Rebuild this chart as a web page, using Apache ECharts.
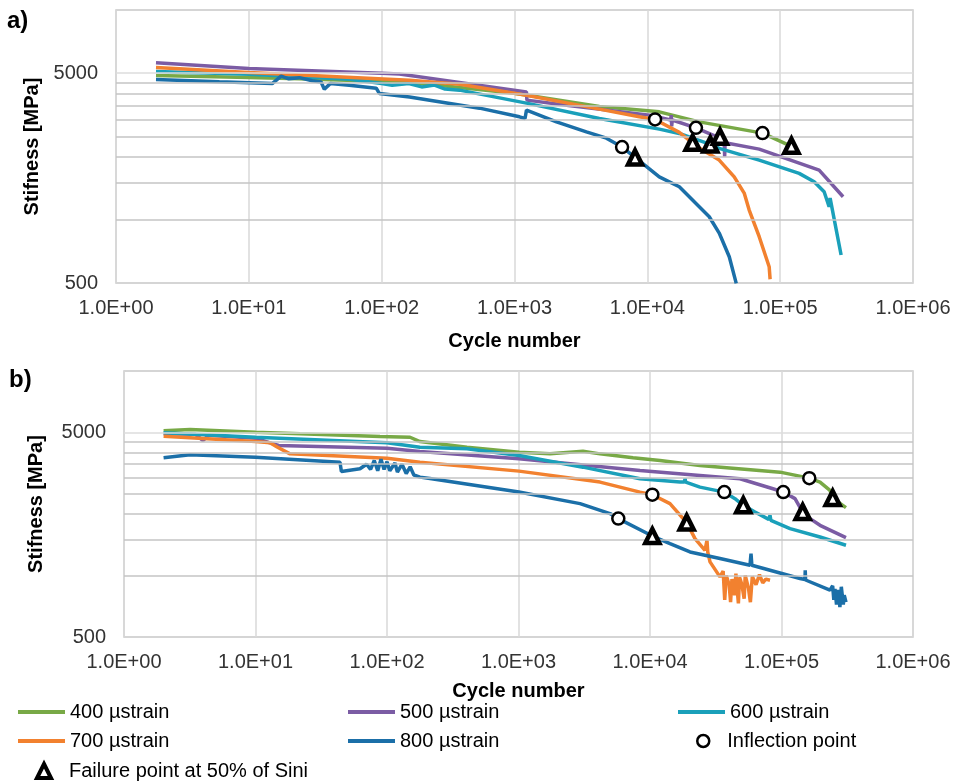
<!DOCTYPE html>
<html>
<head>
<meta charset="utf-8">
<script src="https://cdn.jsdelivr.net/npm/echarts@6/dist/echarts.min.js"></script>
<style>
  html, body { margin: 0; padding: 0; background: #fff; }
  #chart { width: 957px; height: 783px; }
</style>
</head>
<body>
<div id="chart"></div>
<script>
// legend names & colours
const strainNames = ['400 µstrain', '500 µstrain', '600 µstrain', '700 µstrain', '800 µstrain'];
const strainColors = ['#78a946', '#7b5ca4', '#1aa0ba', '#f2812f', '#1b6fa8'];

// axis ticks
const xTicks = [1, 10, 100, 1000, 10000, 100000, 1000000];
const yLabels = [500, 5000];
const yMinorGrid = [1000, 1500, 2000, 2500, 3000, 3500, 4000, 4500];
const yMajorGrid = [5000];

// panel a) [cycle number, stiffness MPa]
const a400 = [[2,4876],[10,4768],[24,4708],[162,4530],[1000,4014],[4355,3470],[12300,3271],[24600,2930],[73620,2590],[121600,2240]];
const a500 = [[2,5600],[10,5267],[100,5000],[136,4950],[1230,4072],[1240,3719],[2460,3518],[10350,3155],[15000,2990],[15140,3155],[15250,2790],[15400,2990],[23230,2744],[35230,2450],[37930,2330],[38200,1997],[38500,2330],[69530,2172],[139000,1864],[196500,1726],[297700,1288]];
const a600 = [[2,5094],[10,4945],[57.5,4678],[100,4459],[120,4380],[160,4460],[200,4300],[250,4390],[300,4200],[386,4150],[1231,3599],[4355,3043],[12300,2705],[17400,2580],[29780,2288],[34760,2189],[69530,1926],[139000,1665],[180300,1518],[214300,1360],[233500,1154],[237700,1270],[287600,680]];
const a700 = [[2,5320],[10,5038],[162,4630],[386,4430],[1230,3928],[4355,3370],[8710,3097],[11430,3009],[17400,2610],[21920,2328],[24600,2197],[34760,1926],[45100,1603],[53600,1341],[58450,1113],[69530,831],[82640,598],[84000,521]];
const a800 = [[2,4667],[6,4545],[15,4459],[17.5,4837],[20,4700],[24,4760],[30,4600],[35,4540],[37,4194],[41,4459],[57,4380],[75,4300],[91,4240],[96,4002],[162,3845],[545,3406],[1091,3097],[1200,3040],[1231,3333],[2070,2931],[3477,2627],[4918,2450],[6455,2222],[8085,1984],[12300,1603],[17400,1437],[24600,1154],[29250,1034],[34760,865],[41380,667],[46700,498]];
const aInflection = [[6455,2222],[11430,3009],[23230,2744],[73620,2590]];
const aFailure = [[8085,1984],[21920,2328],[29780,2288],[35230,2486],[121600,2253]];

// panel b)
const b400 = [[2,5096],[3.18,5170],[10,5017],[21.8,4927],[88.5,4780],[149.6,4742],[178,4518],[406,4238],[1009,4004],[1738,3933],[3092,4050],[4168,3933],[7430,3761],[11910,3648],[23990,3452],[97500,3201],[162700,2992],[196300,2862],[233700,2606],[245000,2390],[309300,2147]];
const b500 = [[2,4927],[3.5,4900],[3.99,4570],[4.4,4850],[10,4689],[12.9,4450],[15,4319],[100,4190],[178,4036],[1009,3718],[8394,3263],[23990,3085],[48350,2971],[86100,2656],[103200,2557],[126700,2375],[144900,2043],[164800,1897],[196300,1759],[309300,1531]];
const b600 = [[2,4983],[10,4742],[100,4453],[178,4238],[406,4162],[1009,3859],[3092,3386],[8394,2971],[16910,2862],[18300,2862],[18460,2982],[18700,2862],[23990,2705],[36730,2557],[44290,2375],[51220,2203],[62850,2043],[80000,1880],[81810,1969],[83000,1861],[116100,1695],[196300,1542],[309300,1405]];
const b700 = [[2,4796],[10,4518],[12.9,4453],[14.6,4250],[18.3,3933],[100,3743],[178,3579],[1009,3238],[4168,2862],[8394,2557],[10420,2483],[14190,2245],[19010,1813],[21990,1514],[26190,1328],[27120,1485],[27500,1300],[28600,1165],[34050,984],[36000,1050],[37000,760],[38000,1000],[40000,900],[41000,740],[42000,960],[44000,800],[45000,1020],[47000,730],[48000,980],[50000,900],[52000,770],[53000,1000],[56000,870],[58000,740],[60000,990],[64000,900],[68000,1010],[72000,920],[76000,960],[81810,948]];
const b800 = [[2,3761],[3.18,3889],[10,3786],[43.9,3579],[45,3227],[62.3,3326],[70,3500],[75,3300],[80,3650],[85,3250],[90,3700],[95,3300],[100,3600],[105,3250],[115,3550],[120,3200],[130,3500],[140,3150],[150,3400],[160,3100],[178,3026],[212,2982],[1009,2557],[2937,2245],[4965,2007],[5741,1897],[10420,1559],[14190,1431],[20150,1303],[34050,1210],[57580,1122],[58640,1280],[59500,1122],[138300,966],[150900,955],[151500,1061],[152500,950],[233700,848],[245000,890],[250000,760],[255000,860],[262000,720],[270000,850],[278000,700],[285000,880],[295000,720],[300000,800],[309300,740]];
const bInflection = [[5741,1897],[10420,2483],[36730,2557],[103200,2557],[162700,2992]];
const bFailure = [[10420,1559],[19010,1813],[51220,2203],[144900,2043],[245000,2390]];

const panels = [
  { lines: [a400, a500, a600, a700, a800], infl: aInflection, fail: aFailure },
  { lines: [b400, b500, b600, b700, b800], infl: bInflection, fail: bFailure },
];

const FONT = 'Liberation Sans, Arial, sans-serif';

function sci(v) {
  const e = Math.round(Math.log10(v));
  const m = v / Math.pow(10, e);
  return m.toFixed(1) + 'E+' + String(e).padStart(2, '0');
}

function xAxisFor(i) {
  return {
    type: 'log', logBase: 10, gridIndex: i, min: 1, max: 1000000,
    name: 'Cycle number', nameLocation: 'middle', nameGap: i === 0 ? 48 : 44,
    nameTextStyle: { fontFamily: FONT, fontSize: 20, fontWeight: 'bold', color: '#000' },
    axisLabel: { fontFamily: FONT, fontSize: 20, color: '#333', margin: 15, formatter: sci,
      customValues: xTicks },
    axisTick: { show: false, customValues: xTicks },
    axisLine: { show: false },
    splitLine: { show: true, lineStyle: { color: '#d9d9d9', width: 1.5 } },
  };
}

function yAxisFor(i) {
  return {
    type: 'log', logBase: 10, gridIndex: i, min: 500, max: 10000,
    name: 'Stifness [MPa]', nameLocation: 'middle', nameGap: i === 0 ? 67 : 78,
    nameTextStyle: { fontFamily: FONT, fontSize: 20, fontWeight: 'bold', color: '#000' },
    axisLabel: { fontFamily: FONT, fontSize: 20, color: '#333', margin: 18,
      customValues: yLabels, formatter: v => String(Math.round(v)) },
    axisTick: { show: false, customValues: yLabels },
    axisLine: { show: false },
    splitLine: { show: false },
  };
}

const series = [];
panels.forEach((p, i) => {
  // horizontal gridlines like the excel minor grid
  series.push({
    name: 'grid' + i, type: 'line', xAxisIndex: i, yAxisIndex: i, data: [],
    silent: true, z: 1,
    markLine: {
      silent: true, symbol: ['none', 'none'], label: { show: false }, animation: false,
      data: yMinorGrid.map(v => ({ yAxis: v, lineStyle: { color: '#c4c4c4', width: 1.5, type: 'solid' } }))
        .concat(yMajorGrid.map(v => ({ yAxis: v, lineStyle: { color: '#dcdcdc', width: 1.5, type: 'solid' } }))),
    },
  });
  p.lines.forEach((d, k) => {
    series.push({
      name: strainNames[k], type: 'line', xAxisIndex: i, yAxisIndex: i, data: d,
      showSymbol: false, symbol: 'none', z: 2,
      lineStyle: { color: strainColors[k], width: 3.5 },
      itemStyle: { color: strainColors[k] },
    });
  });
  series.push({
    name: 'Inflection point', type: 'scatter', xAxisIndex: i, yAxisIndex: i, data: p.infl,
    symbol: 'circle', symbolSize: 12, z: 5,
    itemStyle: { color: '#fff', borderColor: '#000', borderWidth: 2.5, opacity: 1 },
  });
  series.push({
    name: 'Failure point at 50% of Sini', type: 'scatter', xAxisIndex: i, yAxisIndex: i, data: p.fail,
    symbol: 'triangle', symbolSize: 14, z: 5,
    itemStyle: { color: '#fff', borderColor: '#000', borderWidth: 4.5, opacity: 1 },
  });
});

function lineLegend(k, left, top) {
  return {
    data: [{ name: strainNames[k], icon: 'rect' }], left: left, top: top, selectedMode: false,
    itemWidth: 47, itemHeight: 4, padding: 0,
    textStyle: { fontFamily: FONT, fontSize: 20, color: '#000' },
  };
}

function markerLegend(name, left, top, size, bw) {
  return {
    data: [name], left: left, top: top, selectedMode: false,
    itemWidth: size, itemHeight: size, padding: 0,
    itemStyle: { borderWidth: bw, borderColor: '#000', color: '#fff' },
    textStyle: { fontFamily: FONT, fontSize: 20, color: '#000', padding: [0, 0, 0, 13] },
  };
}

const option = {
  animation: false,
  backgroundColor: '#fff',
  title: [
    { text: 'a)', left: 7, top: 9, padding: 0, textStyle: { fontFamily: FONT, fontSize: 24, fontWeight: 'bold', color: '#000' } },
    { text: 'b)', left: 9, top: 368, padding: 0, textStyle: { fontFamily: FONT, fontSize: 24, fontWeight: 'bold', color: '#000' } },
  ],
  grid: [
    { left: 116, right: 44, top: 10, bottom: 500, show: true, borderColor: '#c8c8c8', borderWidth: 1.5, outerBoundsMode: 'none' },
    { left: 124, right: 44, top: 371, bottom: 146, show: true, borderColor: '#c8c8c8', borderWidth: 1.5, outerBoundsMode: 'none' },
  ],
  xAxis: [xAxisFor(0), xAxisFor(1)],
  yAxis: [yAxisFor(0), yAxisFor(1)],
  legend: [
    lineLegend(0, 18, 702),
    lineLegend(1, 348, 702),
    lineLegend(2, 678, 702),
    lineLegend(3, 18, 731),
    lineLegend(4, 348, 731),
    markerLegend('Inflection point', 696, 731, 12, 2.5),
    markerLegend('Failure point at 50% of Sini', 35, 761, 14, 4),
  ],
  series: series,
};

const chart = echarts.init(document.getElementById('chart'), null, { renderer: 'canvas' });
chart.setOption(option);
</script>
</body>
</html>
